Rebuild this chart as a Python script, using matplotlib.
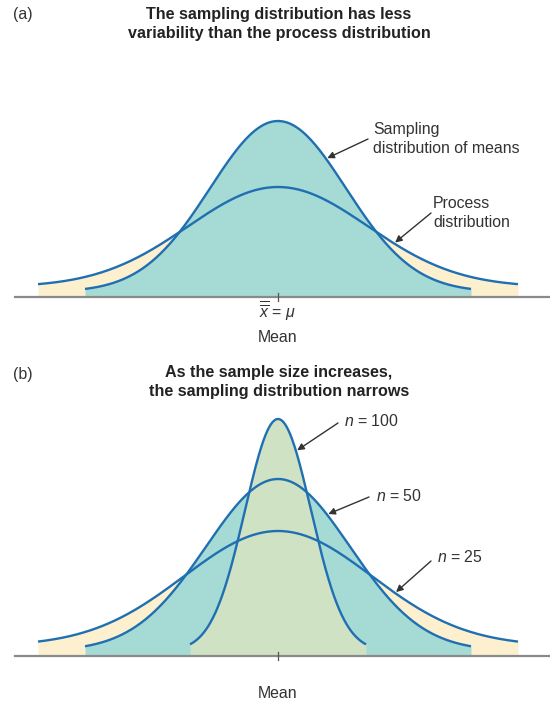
import numpy as np
import matplotlib.pyplot as plt

plt.rcParams['font.family'] = ['Liberation Sans', 'DejaVu Sans']
plt.rcParams['mathtext.fontset'] = 'custom'
plt.rcParams['mathtext.it'] = 'Liberation Sans:italic'
plt.rcParams['mathtext.rm'] = 'Liberation Sans'

# panel (a) curves, in pixel-like units: height above axis, tail height, sigma, half width
a_names = ["Process", "Sampling"]
a_height = [110, 176]
a_floor = [10, 5]
a_sigma = [90, 68]
a_half = [240, 193]

# panel (b) curves for sample sizes
b_n = [25, 50, 100]
b_height = [125, 177, 237]
b_floor = [10, 5, 5]
b_sigma = [94, 72, 33]
b_half = [240, 193, 88]

line_c = '#1f6fb2'
fills_a = ['#fdf0cf', '#a5dbd4']
fills_b = ['#fdf0cf', '#a5dbd4', '#cfe2c4']
W, H = 550, 712
cx = 278
fs = 11.4
fs_title = 11.6


def curve(x, height, floor, sigma):
    return floor + (height - floor) * np.exp(-x ** 2 / (2 * sigma ** 2))


def panel(top, bottom, base):
    ax = fig.add_axes([0, 1 - bottom / H, 1, (bottom - top) / H])
    ax.set_xlim(-cx, W - cx)
    ax.set_ylim(-(bottom - base), base - top)
    ax.axis('off')
    ax.plot([15 - cx, W - cx], [0, 0], color='#8a8a8a', lw=1.6, zorder=5)
    ax.plot([0, 0], [-4, 4], color='#555555', lw=0.9, zorder=6)
    return ax


def draw(ax, heights, floors, sigmas, halves, fills):
    for i in range(len(heights)):
        x = np.linspace(-halves[i], halves[i], 400)
        y = curve(x, heights[i], floors[i], sigmas[i])
        ax.fill_between(x, 0, y, color=fills[i], lw=0, zorder=1 + i)
    for i in range(len(heights)):
        x = np.linspace(-halves[i], halves[i], 400)
        y = curve(x, heights[i], floors[i], sigmas[i])
        ax.plot(x, y, color=line_c, lw=1.7, zorder=10, solid_capstyle='butt')


def pointer(ax, tx, ty, px, i, heights, floors, sigmas, base):
    # tx, ty in figure pixels; arrow tip on curve i at pixel x px
    tip_y = curve(px - cx, heights[i], floors[i], sigmas[i])
    ax.annotate('', xy=(px - cx, tip_y), xytext=(tx - cx, base - ty),
                arrowprops=dict(arrowstyle='-|>', color='#333333', lw=1.0,
                                mutation_scale=10, shrinkA=0, shrinkB=1),
                zorder=20)


fig = plt.figure(figsize=(W / 100, H / 100), dpi=100)

# ---- panel (a)
base_a = 297
ax1 = panel(100, 330, base_a)
draw(ax1, a_height, a_floor, a_sigma, a_half, fills_a)
pointer(ax1, 368, 139, 326, 1, a_height, a_floor, a_sigma, base_a)
pointer(ax1, 431, 213, 394, 0, a_height, a_floor, a_sigma, base_a)
fig.text(373 / W, 1 - 139 / H, 'Sampling\ndistribution of means', fontsize=fs,
         color='#333333', va='center', linespacing=1.3)
fig.text(433 / W, 1 - 213 / H, 'Process\ndistribution', fontsize=fs,
         color='#333333', va='center', linespacing=1.3)
fig.text(13 / W, 1 - 14 / H, '(a)', fontsize=fs, color='#333333', va='center')
fig.text(279 / W, 1 - 24 / H, 'The sampling distribution has less\nvariability than the process distribution',
         fontsize=fs_title, fontweight='bold', color='#222222', ha='center', va='center',
         linespacing=1.35)
fig.text(cx / W, 1 - 311 / H, r'$\overline{\overline{x}}$ = $\mu$', fontsize=fs, color='#333333',
         ha='center', va='center')
fig.text(cx / W, 1 - 337 / H, 'Mean', fontsize=fs, color='#333333', ha='center', va='center')

# ---- panel (b)
base_b = 656
ax2 = panel(400, 690, base_b)
draw(ax2, b_height, b_floor, b_sigma, b_half, fills_b)
arrows_b = [(431, 561, 395), (369, 497, 327), (338, 423, 296)]
labels_b = [(437, 557), (376, 496), (344, 421)]
for i in range(3):
    tx, ty, px = arrows_b[i]
    pointer(ax2, tx, ty, px, i, b_height, b_floor, b_sigma, base_b)
    fig.text(labels_b[i][0] / W, 1 - labels_b[i][1] / H, r'$n$ = %d' % b_n[i],
             fontsize=fs, color='#333333', va='center')
fig.text(13 / W, 1 - 374 / H, '(b)', fontsize=fs, color='#333333', va='center')
fig.text(279 / W, 1 - 382 / H, 'As the sample size increases,\nthe sampling distribution narrows',
         fontsize=fs_title, fontweight='bold', color='#222222', ha='center', va='center',
         linespacing=1.35)
fig.text(cx / W, 1 - 694 / H, 'Mean', fontsize=fs, color='#333333', ha='center', va='center')

fig.savefig('out.png', dpi=100)
